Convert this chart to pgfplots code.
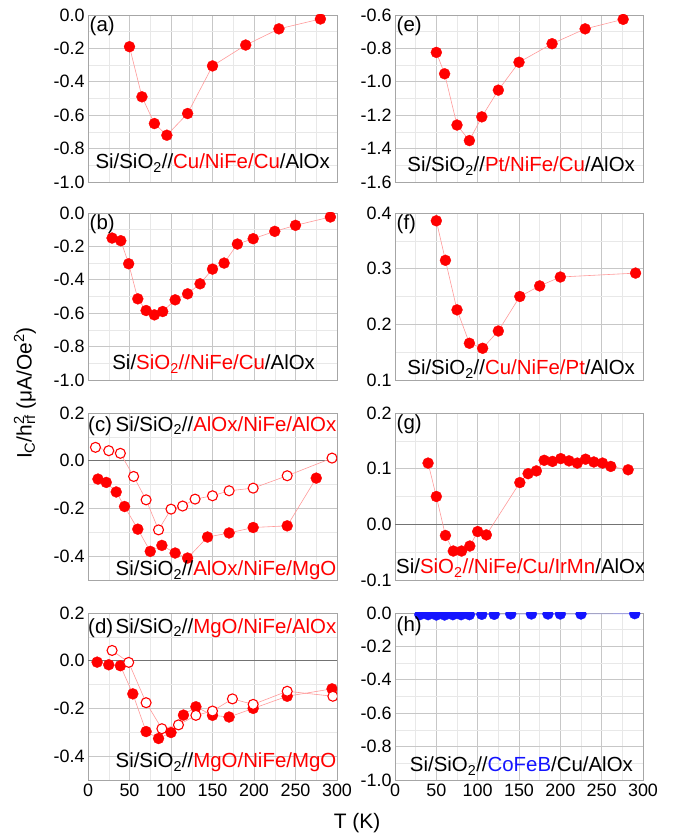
\documentclass[border=0pt]{standalone}
\usepackage{pgfplots}
\pgfplotsset{compat=1.18}
\usepackage{fontspec}
\setmainfont{Liberation Sans}
\newcommand{\lab}{\fontsize{20.5}{23}\selectfont}
\newcommand{\sio}{SiO\textsubscript{2}}
\definecolor{myblue}{RGB}{20,20,255}
\begin{document}
\begin{tikzpicture}
\useasboundingbox (0,0) rectangle (677bp,840bp);
\pgfplotsset{
  panel/.style={
    scale only axis, width=249bp, height=167bp, anchor=north west,
    xmin=0, xmax=300, xtick={0,50,100,150,200,250,300}, minor x tick num=1,
    minor y tick num=1,
    grid=both, major grid style={draw=black!22, line width=0.6pt},
    minor grid style={draw=black!9, line width=0.5pt},
    axis line style={draw=black!35, line width=0.8pt},
    major tick length=0pt, minor tick length=0pt,
    tick label style={font=\fontsize{18}{18}\selectfont},
    /pgf/number format/assume math mode=true,
    yticklabel={\pgfmathprintnumber[fixed,fixed zerofill,precision=1,assume math mode=true]{\tick}},
    xticklabel={\pgfmathprintnumber[fixed,precision=0,assume math mode=true]{\tick}},
    clip marker paths=true,
  },
  nox/.style={xticklabels={}},
  zeroline/.style={extra y ticks={0}, extra y tick labels={}, extra y tick style={grid=major, major grid style={draw=black!55, line width=0.6pt}}},
  filled/.style={draw=red!40, line width=0.6pt, mark=*, mark size=5.5bp, mark options={draw=red, fill=red, line width=0.3pt}},
  open/.style={draw=red!40, line width=0.6pt, mark=*, mark size=5bp, mark options={draw=red, fill=white, line width=1.1pt}},
  bluef/.style={draw=myblue!40, line width=0.6pt, mark=*, mark size=5.5bp, mark options={draw=myblue, fill=myblue, line width=0.3pt}},
}
% (a)
\begin{axis}[panel, nox, at={(88bp,825bp)}, ymin=-1, ymax=0, ytick={-1,-0.8,-0.6,-0.4,-0.2,0}]
\addplot[filled] coordinates {(50,-0.19) (65,-0.49) (80,-0.65) (95,-0.72) (120,-0.59) (150,-0.305) (190,-0.18) (230,-0.083) (280,-0.024)};
\node[anchor=north west, inner sep=1.5bp, font=\lab] at (rel axis cs:0,1) {(a)};
\node[anchor=base east, inner sep=0pt, font=\lab] at (rel axis cs:0.972,0.078) {Si/\sio//\textcolor{red}{Cu/NiFe/Cu}/AlOx};
\end{axis}
% (b)
\begin{axis}[panel, nox, at={(88bp,627bp)}, ymin=-1, ymax=0, ytick={-1,-0.8,-0.6,-0.4,-0.2,0}]
\addplot[filled] coordinates {(29,-0.15) (39.5,-0.166) (49,-0.304) (60,-0.514) (70,-0.584) (80,-0.61) (90,-0.59) (105,-0.52) (120,-0.484) (135,-0.424) (150,-0.336) (164,-0.3) (180,-0.186) (199,-0.154) (225,-0.11) (250,-0.074) (292,-0.024)};
\node[anchor=north west, inner sep=1.5bp, font=\lab] at (rel axis cs:0,1) {(b)};
\node[anchor=base east, inner sep=0pt, font=\lab] at (rel axis cs:0.912,0.06) {Si/\textcolor{red}{\sio//NiFe/Cu}/AlOx};
\end{axis}
% (c)
\begin{axis}[panel, nox, zeroline, at={(88bp,427bp)}, ymin=-0.5, ymax=0.2, ytick={-0.4,-0.2,0,0.2}]
\addplot[open] coordinates {(9,0.056) (25,0.042) (39,0.031) (55,-0.066) (70,-0.164) (85,-0.29) (100,-0.203) (114,-0.19) (129,-0.161) (150,-0.147) (170,-0.126) (199,-0.115) (240,-0.063) (294,0.011)};
\addplot[filled] coordinates {(12,-0.077) (22,-0.091) (34,-0.131) (44,-0.192) (60,-0.287) (75,-0.38) (89,-0.355) (105,-0.387) (120,-0.408) (144,-0.32) (170,-0.303) (199,-0.28) (240,-0.273) (275,-0.073)};
\node[anchor=base west, inner sep=0pt, font=\lab] at (rel axis cs:0.0,0.89) {(c)};
\node[anchor=base east, inner sep=0pt, font=\lab] at (rel axis cs:0.998,0.89) {Si/\sio//\textcolor{red}{AlOx/NiFe/AlOx}};
\node[anchor=base east, inner sep=0pt, font=\lab] at (rel axis cs:0.998,0.024) {Si/\sio//\textcolor{red}{AlOx/NiFe/MgO}};
\end{axis}
% (d)
\begin{axis}[panel, zeroline, at={(88bp,227bp)}, ymin=-0.5, ymax=0.2, ytick={-0.4,-0.2,0,0.2}]
\addplot[filled] coordinates {(11,-0.006) (25,-0.017) (39,-0.021) (54,-0.139) (70,-0.297) (85,-0.326) (100,-0.301) (115,-0.228) (130,-0.193) (150,-0.229) (170,-0.236) (199,-0.2) (240,-0.149) (294,-0.118)};
\addplot[open] coordinates {(29,0.043) (49,-0.007) (70,-0.176) (89,-0.285) (109,-0.269) (130,-0.229) (150,-0.211) (174,-0.16) (199,-0.183) (240,-0.128) (295,-0.149)};
\node[anchor=base west, inner sep=0pt, font=\lab] at (rel axis cs:0.0,0.88) {(d)};
\node[anchor=base east, inner sep=0pt, font=\lab] at (rel axis cs:0.998,0.88) {Si/\sio//\textcolor{red}{MgO/NiFe/AlOx}};
\node[anchor=base east, inner sep=0pt, font=\lab] at (rel axis cs:0.998,0.072) {Si/\sio//\textcolor{red}{MgO/NiFe/MgO}};
\end{axis}
% (e)
\begin{axis}[panel, nox, width=248bp, at={(395bp,825bp)}, ymin=-1.6, ymax=-0.6, ytick={-1.6,-1.4,-1.2,-1,-0.8,-0.6}]
\addplot[filled] coordinates {(50,-0.824) (60,-0.952) (75,-1.259) (90,-1.352) (105,-1.21) (125,-1.05) (150,-0.883) (190,-0.772) (230,-0.683) (276,-0.626)};
\node[anchor=north west, inner sep=1.5bp, font=\lab] at (rel axis cs:0,1) {(e)};
\node[anchor=base east, inner sep=0pt, font=\lab] at (rel axis cs:0.968,0.06) {Si/\sio//\textcolor{red}{Pt/NiFe/Cu}/AlOx};
\end{axis}
% (f)
\begin{axis}[panel, nox, width=248bp, at={(395bp,627bp)}, ymin=0.1, ymax=0.4, ytick={0.1,0.2,0.3,0.4}]
\addplot[filled] coordinates {(50,0.386) (61,0.315) (75,0.226) (90,0.166) (106,0.157) (125,0.188) (151,0.25) (175,0.269) (200,0.285) (291,0.292)};
\node[anchor=north west, inner sep=1.5bp, font=\lab] at (rel axis cs:0,1) {(f)};
\node[anchor=base east, inner sep=0pt, font=\lab] at (rel axis cs:0.968,0.03) {Si/\sio//\textcolor{red}{Cu/NiFe/Pt}/AlOx};
\end{axis}
% (g)
\begin{axis}[panel, nox, zeroline, width=248bp, at={(395bp,427bp)}, ymin=-0.1, ymax=0.2, ytick={-0.1,0,0.1,0.2}]
\addplot[filled] coordinates {(40,0.11) (50,0.05) (61,-0.02) (70.5,-0.048) (80.5,-0.048) (90.5,-0.039) (100,-0.013) (110.5,-0.019) (151,0.075) (161,0.091) (171,0.096) (180.5,0.115) (190.5,0.113) (200.5,0.118) (210.5,0.114) (220.5,0.11) (230.5,0.117) (240.5,0.112) (251,0.11) (261,0.104) (282,0.098)};
\node[anchor=north west, inner sep=1.5bp, font=\lab] at (rel axis cs:0,1) {(g)};
\node[anchor=base east, inner sep=0pt, font=\lab] at (rel axis cs:1.01,0.036) {Si/\textcolor{red}{\sio//NiFe/Cu/IrMn}/AlOx};
\end{axis}
% (h)
\begin{axis}[panel, width=248bp, at={(395bp,227bp)}, ymin=-1, ymax=0, ytick={-1,-0.8,-0.6,-0.4,-0.2,0}]
\addplot[bluef] coordinates {(30,-0.01) (40,-0.01) (50,-0.012) (60,-0.012) (70,-0.01) (80,-0.01) (90,-0.01) (105,-0.008) (120,-0.008) (140,-0.006) (165,-0.006) (185,-0.006) (200,-0.006) (225,-0.006) (290,-0.004)};
\node[anchor=north west, inner sep=1.5bp, font=\lab] at (rel axis cs:0,0.985) {(h)};
\node[anchor=base east, inner sep=0pt, font=\lab] at (rel axis cs:0.96,0.048) {Si/\sio//\textcolor{myblue}{CoFeB}/Cu/AlOx};
\end{axis}
\node[rotate=90, font=\fontsize{21}{23}\selectfont] at (25bp,447bp) {I\textsubscript{C}/h\rlap{\textsuperscript{2}}\textsubscript{rf} (μA/Oe\textsuperscript{2})};
\node[font=\fontsize{21}{23}\selectfont] at (357bp,17bp) {T (K)};
\end{tikzpicture}
\end{document}
